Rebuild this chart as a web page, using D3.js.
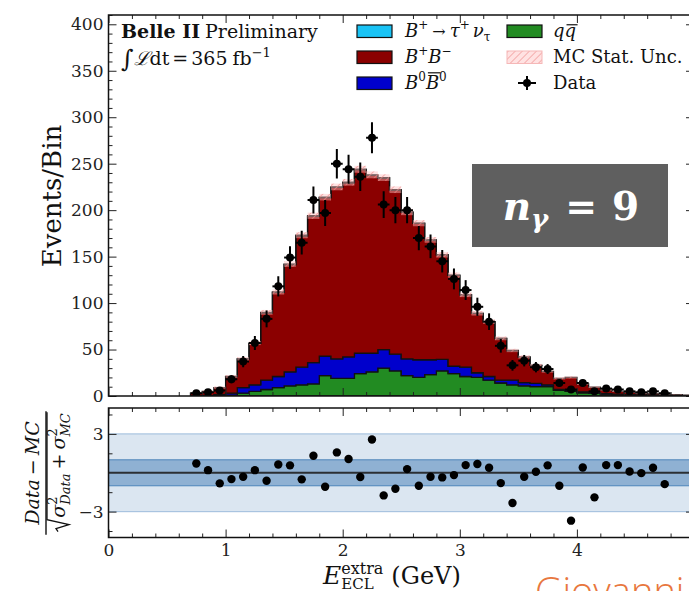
<!DOCTYPE html>
<html>
<head>
<meta charset="utf-8">
<script src="https://cdn.jsdelivr.net/npm/d3@7"></script>
<style>
  body { margin: 0; background: #fff; }
  svg { display: block; }
  text { font-family: "DejaVu Serif", serif; }
</style>
</head>
<body>
<svg id="chart" width="689" height="591"></svg>
<script>
// E_ECL^extra histogram, 0.1 GeV bins (centres in GeV)
const binCenters = [0.75, 0.85, 0.95, 1.05, 1.15, 1.25, 1.35, 1.45, 1.55, 1.65,
  1.75, 1.85, 1.95, 2.05, 2.15, 2.25, 2.35, 2.45, 2.55, 2.65,
  2.75, 2.85, 2.95, 3.05, 3.15, 3.25, 3.35, 3.45, 3.55, 3.65,
  3.75, 3.85, 3.95, 4.05, 4.15, 4.25, 4.35, 4.45, 4.55, 4.65,
  4.75, 4.85, 4.95];
const binWidth = 0.1;

// MC components (events per bin)
const qqBar = [0, 0, 0.5, 1, 3, 5, 7, 9, 11, 12,
  13, 22, 19, 19, 24, 26, 30, 27, 22, 20,
  23, 27, 24, 21, 20, 17, 14, 12, 11, 10,
  10, 6, 5, 3.5, 3, 2, 1.5, 1, 1, 0.5,
  0.5, 0.3, 0.2];
const bZeroBZeroBar = [0, 0.5, 1, 2, 6, 7, 10, 12, 15, 19,
  23, 21, 21, 23, 22, 20, 20, 18, 18, 19,
  16, 12.5, 8, 10, 5, 4, 3, 5, 3.5, 3.5,
  2, 1, 1.5, 1, 0.5, 0.5, 0.5, 0.5, 0.2, 0.3,
  0.2, 0.2, 0.1];
const bPlusBMinus = [3, 4.5, 7.5, 17.9, 30.8, 44.7, 72.6, 90.5, 115.5, 141.4,
  157.4, 170.4, 184.4, 187.5, 197.5, 191.5, 184.6, 176.6, 157.7, 146.7,
  128.7, 112.3, 97.8, 77.8, 63.9, 58.9, 44.9, 31.9, 27.4, 19.4,
  14.5, 12, 13.5, 8.5, 6, 4, 3, 2.5, 1.8, 1.7,
  1.3, 1, 0.7];
const sigTauNu = [0, 0, 0, 0.1, 0.2, 0.3, 0.4, 0.5, 0.5, 0.6,
  0.6, 0.6, 0.6, 0.5, 0.5, 0.5, 0.4, 0.4, 0.3, 0.3,
  0.3, 0.2, 0.2, 0.2, 0.1, 0.1, 0.1, 0.1, 0.1, 0.1,
  0, 0, 0, 0, 0, 0, 0, 0, 0, 0,
  0, 0, 0];
const mcStatUnc = [0.8, 1, 1.2, 1.5, 2, 2.2, 2.6, 2.8, 3, 3.2,
  3.4, 3.5, 3.6, 3.6, 3.7, 3.7, 3.6, 3.6, 3.4, 3.3,
  3.1, 3, 2.8, 2.6, 2.4, 2.3, 2, 1.8, 1.7, 1.5,
  1.4, 1.2, 1.2, 1, 0.9, 0.7, 0.6, 0.5, 0.5, 0.4,
  0.4, 0.3, 0.3];

// Observed data (events per bin)
const dataCounts = [3, 4, 6, 18, 37, 57, 83, 118, 149, 165,
  211, 197, 250, 244, 236, 278, 206, 200, 200, 170,
  161, 145, 126, 114, 96, 80, 54, 33, 38, 31,
  29, 14, 7, 14, 5, 8, 7, 5, 4, 5,
  3, null, null];

// (Data - MC) / sqrt(sigma_data^2 + sigma_MC^2)
const pulls = [0.72, 0.2, -0.82, -0.49, -0.31, 0.2, -0.62, 0.64, 0.57, -0.51,
  1.31, -1.08, 1.57, 1.06, -0.33, 2.57, -1.75, -1.24, 0.28, -1.0,
  -0.31, -0.36, -0.18, 0.59, 0.67, 0.39, -0.8, -2.34, -0.31, 0.08,
  0.57, -1.0, -3.7, 0.41, -1.9, 0.59, 0.59, 0.1, -0.03, 0.39,
  -0.88, null, null];

const xMajorTicks = [0, 1, 2, 3, 4, 5];
const xMinorTicks = d3.range(0, 5.001, 0.2).filter(v => Math.abs(v - Math.round(v)) > 1e-6);
const yMainTicks = [0, 50, 100, 150, 200, 250, 300, 350, 400];
const yMainMinor = d3.range(0, 411, 10).filter(v => v % 50 !== 0);
const yPullTicks = [-3, 3];
const yPullMinor = [-4.5, -1.5, 1.5, 4.5];

const colors = {
  sig: "#19c3f5",
  bpm: "#8b0000",
  b0: "#0000cc",
  qq: "#228b22"
};

const svg = d3.select("#chart");
const ink = "#111";

// scales
const x = d3.scaleLinear().domain([0, 5]).range([108.5, 694]);
const y = d3.scaleLinear().domain([0, 410]).range([396, 15]);
const yp = d3.scaleLinear().domain([-5, 5]).range([537.5, 408]);

// hatch for MC statistical uncertainty
const defs = svg.append("defs");
const pat = defs.append("pattern").attr("id", "hatch")
  .attr("patternUnits", "userSpaceOnUse").attr("width", 5).attr("height", 5)
  .attr("patternTransform", "rotate(45)");
pat.append("rect").attr("width", 5).attr("height", 5).attr("fill", "rgba(255,190,190,0.45)");
pat.append("line").attr("x1", 0).attr("y1", 0).attr("x2", 0).attr("y2", 5)
  .attr("stroke", "#ee8f8f").attr("stroke-width", 1.3);

// clip to the plot areas
defs.append("clipPath").attr("id", "clipMain").append("rect")
  .attr("x", x(0)).attr("y", y(410)).attr("width", x(5) - x(0)).attr("height", y(0) - y(410));
defs.append("clipPath").attr("id", "clipPull").append("rect")
  .attr("x", x(0)).attr("y", yp(5)).attr("width", x(5) - x(0)).attr("height", yp(-5) - yp(5));

// ---------- upper panel: stacked MC ----------
const rows = binCenters.map((c, i) => ({
  c, qq: qqBar[i], b0: bZeroBZeroBar[i], bpm: bPlusBMinus[i], sig: sigTauNu[i]
}));
const stack = d3.stack().keys(["qq", "b0", "bpm", "sig"])(rows);

const mainG = svg.append("g").attr("clip-path", "url(#clipMain)");

function stepPoints(layer) {
  const pts = [];
  layer.forEach((d, i) => {
    const c = binCenters[i];
    pts.push({ x: c - binWidth / 2, lo: d[0], hi: d[1] });
    pts.push({ x: c + binWidth / 2, lo: d[0], hi: d[1] });
  });
  return pts;
}
const area = d3.area().x(p => x(p.x)).y0(p => y(p.lo)).y1(p => y(p.hi));

stack.forEach(layer => {
  // trim bins where the component is empty at the edges
  let pts = stepPoints(layer);
  const nz = pts.map((p, i) => (p.hi - p.lo) > 0 ? i : -1).filter(i => i >= 0);
  if (!nz.length) return;
  pts = pts.slice(nz[0], nz[nz.length - 1] + 1);
  mainG.append("path").datum(pts)
    .attr("d", area)
    .attr("fill", colors[layer.key])
    .attr("stroke", ink).attr("stroke-width", 1.3)
    .attr("stroke-linejoin", "miter");
});

// MC statistical uncertainty band
const totals = rows.map(r => r.qq + r.b0 + r.bpm + r.sig);
mainG.append("g").selectAll("rect").data(binCenters).join("rect")
  .attr("x", c => x(c - binWidth / 2))
  .attr("width", x(binWidth) - x(0))
  .attr("y", (c, i) => y(totals[i] + mcStatUnc[i]))
  .attr("height", (c, i) => y(totals[i] - mcStatUnc[i]) - y(totals[i] + mcStatUnc[i]))
  .attr("fill", "url(#hatch)");

// data points with Poisson errors and bin-width horizontal bars
const dataPts = binCenters.map((c, i) => ({ c, n: dataCounts[i] })).filter(d => d.n != null);
const dg = mainG.append("g");
dg.selectAll("line.v").data(dataPts).join("line").attr("class", "v")
  .attr("x1", d => x(d.c)).attr("x2", d => x(d.c))
  .attr("y1", d => y(d.n - Math.sqrt(d.n))).attr("y2", d => y(d.n + Math.sqrt(d.n)))
  .attr("stroke", "#000").attr("stroke-width", 2);
dg.selectAll("line.h").data(dataPts).join("line").attr("class", "h")
  .attr("x1", d => x(d.c - binWidth / 2)).attr("x2", d => x(d.c + binWidth / 2))
  .attr("y1", d => y(d.n)).attr("y2", d => y(d.n))
  .attr("stroke", "#000").attr("stroke-width", 2);
dg.selectAll("circle").data(dataPts).join("circle")
  .attr("cx", d => x(d.c)).attr("cy", d => y(d.n)).attr("r", 4)
  .attr("fill", "#000");

// ---------- lower panel: pulls ----------
const pullG = svg.append("g").attr("clip-path", "url(#clipPull)");
pullG.append("rect")
  .attr("x", x(0)).attr("width", x(5) - x(0))
  .attr("y", yp(3)).attr("height", yp(-3) - yp(3))
  .attr("fill", "#dbe6f1").attr("stroke", "#a9c4e0").attr("stroke-width", 1.2);
pullG.append("rect")
  .attr("x", x(0)).attr("width", x(5) - x(0))
  .attr("y", yp(1)).attr("height", yp(-1) - yp(1))
  .attr("fill", "#8fb1d3").attr("stroke", "#5d90c0").attr("stroke-width", 1.2);
pullG.append("line")
  .attr("x1", x(0)).attr("x2", x(5)).attr("y1", yp(0)).attr("y2", yp(0))
  .attr("stroke", "#2b2f33").attr("stroke-width", 2);
const pullPts = binCenters.map((c, i) => ({ c, p: pulls[i] })).filter(d => d.p != null);
pullG.selectAll("circle").data(pullPts).join("circle")
  .attr("cx", d => x(d.c)).attr("cy", d => yp(d.p)).attr("r", 4.2)
  .attr("fill", "#000");

// ---------- axes ----------
function axisGroup(axis, tx, ty) {
  const g = svg.append("g").attr("transform", `translate(${tx},${ty})`).call(axis);
  g.select(".domain").remove();
  g.selectAll(".tick line").attr("stroke", "#222").attr("stroke-width", 1);
  g.selectAll(".tick text").attr("fill", "#222")
    .style("font-family", '"DejaVu Serif", serif').style("font-size", "17px");
  return g;
}
const blank = () => "";
// upper panel
axisGroup(d3.axisBottom(x).tickValues(xMajorTicks).tickSize(-8).tickFormat(blank), 0, y(0));
axisGroup(d3.axisBottom(x).tickValues(xMinorTicks).tickSize(-4).tickFormat(blank), 0, y(0));
axisGroup(d3.axisTop(x).tickValues(xMajorTicks).tickSize(-8).tickFormat(blank), 0, y(410));
axisGroup(d3.axisTop(x).tickValues(xMinorTicks).tickSize(-4).tickFormat(blank), 0, y(410));
axisGroup(d3.axisLeft(y).tickValues(yMainTicks).tickSize(-8).tickPadding(5).tickFormat(d3.format("d")), x(0), 0);
axisGroup(d3.axisLeft(y).tickValues(yMainMinor).tickSize(-4).tickFormat(blank), x(0), 0);
axisGroup(d3.axisRight(y).tickValues(yMainTicks).tickSize(-8).tickFormat(blank), x(5), 0);
axisGroup(d3.axisRight(y).tickValues(yMainMinor).tickSize(-4).tickFormat(blank), x(5), 0);
// lower panel
axisGroup(d3.axisBottom(x).tickValues(xMajorTicks.slice(0, 5)).tickSize(-8).tickPadding(6).tickFormat(d3.format("d")), 0, yp(-5));
axisGroup(d3.axisBottom(x).tickValues(xMinorTicks).tickSize(-4).tickFormat(blank), 0, yp(-5));
axisGroup(d3.axisTop(x).tickValues(xMajorTicks).tickSize(-8).tickFormat(blank), 0, yp(5));
axisGroup(d3.axisTop(x).tickValues(xMinorTicks).tickSize(-4).tickFormat(blank), 0, yp(5));
axisGroup(d3.axisLeft(yp).tickValues(yPullTicks).tickSize(-8).tickPadding(5)
  .tickFormat(v => v < 0 ? "\u2212" + Math.abs(v) : String(v)), x(0), 0);
axisGroup(d3.axisLeft(yp).tickValues(yPullMinor).tickSize(-4).tickFormat(blank), x(0), 0);
axisGroup(d3.axisRight(yp).tickValues(yPullTicks).tickSize(-8).tickFormat(blank), x(5), 0);
axisGroup(d3.axisRight(yp).tickValues(yPullMinor).tickSize(-4).tickFormat(blank), x(5), 0);

// frames
svg.append("rect").attr("x", x(0)).attr("y", y(410)).attr("width", x(5) - x(0)).attr("height", y(0) - y(410))
  .attr("fill", "none").attr("stroke", "#111").attr("stroke-width", 1.5);
svg.append("rect").attr("x", x(0)).attr("y", yp(5)).attr("width", x(5) - x(0)).attr("height", yp(-5) - yp(5))
  .attr("fill", "none").attr("stroke", "#111").attr("stroke-width", 1.5);

// ---------- text helpers ----------
// Lays out a run of text pieces (italic / sub / sup / overline) left to right.
function mathRun(parent, x0, y0, pieces, opts = {}) {
  const g = parent.append("g");
  const fill = opts.fill || ink;
  let cur = 0, lastX = 0;
  pieces.forEach(p => {
    if (p.gap) { cur += p.gap; return; }
    const size = p.size || opts.size || 18;
    const px = p.stack ? lastX : cur;
    const t = g.append("text")
      .attr("x", px).attr("y", p.dy || 0)
      .attr("fill", fill)
      .style("font-size", size + "px")
      .style("font-style", p.it ? "italic" : "normal")
      .style("font-weight", p.bold ? "bold" : "normal")
      .style("font-family", p.font || opts.font || '"DejaVu Serif", serif')
      .text(p.t);
    const w = t.node().getComputedTextLength();
    if (p.over) {
      g.append("line")
        .attr("x1", px + (p.it ? 2 : 0.5)).attr("x2", px + w + (p.it ? 1.5 : 0))
        .attr("y1", (p.dy || 0) - size * p.over).attr("y2", (p.dy || 0) - size * p.over)
        .attr("stroke", fill).attr("stroke-width", 1.2);
    }
    if (!p.stack) lastX = px;
    cur = Math.max(cur, px + w);
  });
  const shift = opts.anchor === "middle" ? -cur / 2 : 0;
  g.attr("transform", `translate(${x0 + shift},${y0})`);
  return { g, w: cur };
}

// ---------- labels ----------
// y label, upper panel
svg.append("text")
  .attr("transform", `translate(61,196) rotate(-90)`)
  .attr("text-anchor", "middle")
  .style("font-size", "26px").attr("fill", ink)
  .text("Events/Bin");

// x label
mathRun(svg, 323, 584, [
  { t: "E", it: true, size: 25 },
  { t: "extra", size: 16, dy: -10 },
  { t: "ECL", size: 15, dy: 5, stack: true },
  { gap: 8 },
  { t: "(GeV)", size: 24 }
]);

// pull y label: (Data - MC) / sqrt(sigma_Data^2 + sigma_MC^2)
const fracG = svg.append("g").attr("transform", "translate(45,473) rotate(-90)");
const num = mathRun(fracG, 0, -6, [
  { t: "Data", it: true }, { gap: 4 }, { t: "\u2212" }, { gap: 4 }, { t: "MC", it: true }
], { anchor: "middle", size: 19 });
const den = mathRun(fracG, 0, 20, [
  { gap: 15 },
  { t: "\u03c3", it: true, size: 19 },
  { t: "2", size: 13, dy: -8 },
  { t: "Data", it: true, size: 13, dy: 5, stack: true },
  { gap: 4 }, { t: "+", size: 19 }, { gap: 4 },
  { t: "\u03c3", it: true, size: 19 },
  { t: "2", size: 13, dy: -8 },
  { t: "MC", it: true, size: 13, dy: 5, stack: true }
], { anchor: "middle", size: 19 });
den.g.append("path")
  .attr("d", `M1,-7 L4,-9 L8,4 L13,-18 L${den.w + 1},-18`)
  .attr("fill", "none").attr("stroke", ink).attr("stroke-width", 1.3);
const fracW = Math.max(num.w, den.w) + 4;
fracG.append("line").attr("x1", -fracW / 2).attr("x2", fracW / 2).attr("y1", 1).attr("y2", 1)
  .attr("stroke", ink).attr("stroke-width", 1.4);

// experiment label
mathRun(svg, 121, 37.5, [
  { t: "Belle II", bold: true, size: 19 }, { gap: 5 }, { t: "Preliminary", size: 19 }
]);
mathRun(svg, 121, 65, [
  { t: "\u222b", size: 24, dy: 2 },
  { t: "\u2112", it: true, size: 19 },
  { t: "dt", size: 19 },
  { gap: 3 }, { t: "=", size: 19 }, { gap: 3 },
  { t: "365", size: 19 }, { gap: 5 },
  { t: "fb", size: 19 },
  { t: "\u22121", size: 13, dy: -8 }
]);

// ---------- legend ----------
const legRows = [31, 57, 83];
const leg = svg.append("g");
function swatch(xs, yc, fill) {
  leg.append("rect").attr("x", xs).attr("y", yc - 6).attr("width", 35).attr("height", 12.5)
    .attr("fill", fill).attr("stroke", "#111").attr("stroke-width", 1.2);
}
swatch(357, legRows[0], colors.sig);
swatch(357, legRows[1], colors.bpm);
swatch(357, legRows[2], colors.b0);
swatch(507, legRows[0], colors.qq);
leg.append("rect").attr("x", 507).attr("y", legRows[1] - 6).attr("width", 35).attr("height", 12.5)
  .attr("fill", "url(#hatch)").attr("stroke", "#f5b8b8").attr("stroke-width", 1);
// data marker in legend
leg.append("line").attr("x1", 518).attr("x2", 536).attr("y1", legRows[2]).attr("y2", legRows[2])
  .attr("stroke", "#000").attr("stroke-width", 2);
leg.append("line").attr("x1", 527).attr("x2", 527).attr("y1", legRows[2] - 7).attr("y2", legRows[2] + 7)
  .attr("stroke", "#000").attr("stroke-width", 2);
leg.append("circle").attr("cx", 527).attr("cy", legRows[2]).attr("r", 4).attr("fill", "#000");

const lb = 6;
mathRun(leg, 405, legRows[0] + lb, [
  { t: "B", it: true }, { t: "+", size: 12, dy: -8 }, { gap: 4 },
  { t: "\u2192", size: 16 }, { gap: 4 },
  { t: "\u03c4", it: true }, { t: "+", size: 12, dy: -8 }, { gap: 3 },
  { t: "\u03bd", it: true }, { t: "\u03c4", size: 12, dy: 4 }
], { size: 18 });
mathRun(leg, 405, legRows[1] + lb, [
  { t: "B", it: true }, { t: "+", size: 12, dy: -8 },
  { t: "B", it: true }, { t: "\u2212", size: 12, dy: -8 }
], { size: 18 });
mathRun(leg, 405, legRows[2] + lb, [
  { t: "B", it: true }, { t: "0", size: 12, dy: -8 },
  { t: "B", it: true, over: 0.9 }, { t: "0", size: 12, dy: -8 }
], { size: 18 });
mathRun(leg, 553, legRows[0] + lb, [
  { t: "q", it: true }, { t: "q", it: true, over: 0.68 }
], { size: 18 });
mathRun(leg, 553, legRows[1] + lb, [{ t: "MC Stat. Unc." }], { size: 18 });
mathRun(leg, 553, legRows[2] + lb, [{ t: "Data" }], { size: 18 });

// ---------- photon multiplicity tag ----------
svg.append("rect").attr("x", 472).attr("y", 164).attr("width", 196).attr("height", 83)
  .attr("fill", "#5f5f5f");
mathRun(svg, 571, 220, [
  { t: "n", it: true, bold: true, size: 39 },
  { t: "\u03b3", it: true, bold: true, size: 26, dy: 8 },
  { gap: 17 },
  { t: "=", bold: true, size: 38 },
  { gap: 15 },
  { t: "9", bold: true, size: 39 }
], { anchor: "middle", fill: "#ffffff" });

// presenter name
svg.append("text").attr("x", 535).attr("y", 605)
  .style("font-family", '"Open Sans", "Noto Sans", sans-serif')
  .style("font-size", "38px").style("font-weight", 300)
  .attr("fill", "#e8773e")
  .text("Giovanni");
</script>
</body>
</html>
